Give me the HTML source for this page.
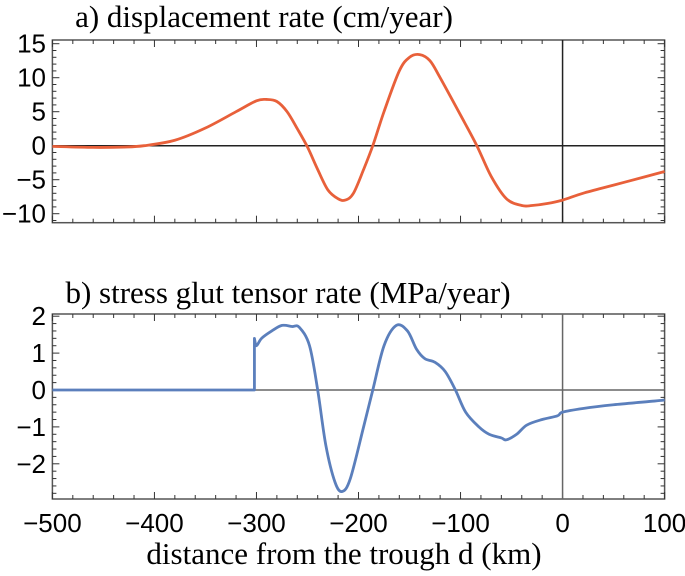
<!DOCTYPE html>
<html><head><meta charset="utf-8"><style>
body{margin:0;background:#fff}
svg{display:block}
.t{font-family:"Liberation Serif",serif;font-size:31px;fill:#000}
.k{font-family:"Liberation Sans",sans-serif;font-size:26px;fill:#000}
</style></head><body>
<svg id="c" width="685" height="576"></svg>
<script>
const xA=[-500,-460,-430,-410,-380,-350,-320,-300,-290,-280,-270,-260,-250,-240,-230,-220,-213,-205,-195,-186,-175,-160,-150,-140,-130,-120,-100,-84,-70,-55,-40,-30,-15,0,20,50,80,100];
const yA=[-0.1,-0.25,-0.2,0,0.8,2.6,5,6.6,6.8,6.5,5,2.5,-0.2,-3.5,-6.5,-7.8,-8,-7,-3.5,0,5,11,13,13.4,12.5,10,4.5,0,-4.5,-7.8,-8.8,-8.8,-8.5,-8,-7,-5.8,-4.6,-3.8];
const xB=[-500,-400,-302,-302,-300,-295,-285,-275,-265,-258,-248,-240,-232,-223,-216,-208,-195,-186,-175,-163,-152,-143,-135,-125,-115,-105,-95,-82,-72,-60,-55,-45,-35,-20,-5,0,20,50,90,100];
const yB=[0,0,0,1.4,1.2,1.4,1.6,1.75,1.72,1.7,1.2,0,-1.5,-2.5,-2.75,-2.4,-1,0,1.2,1.75,1.6,1.1,0.85,0.75,0.5,0,-0.6,-1.0,-1.2,-1.3,-1.35,-1.2,-0.95,-0.8,-0.7,-0.6,-0.5,-0.4,-0.3,-0.27];
const xTicks=[-500,-400,-300,-200,-100,0,100];
const yTicksA=[15,10,5,0,-5,-10];
const yTicksB=[2,1,0,-1,-2];
const NS="http://www.w3.org/2000/svg";
const svg=document.getElementById('c');
const L=52.4,R=664.6;
const sx=v=>L+(v+500)*(R-L)/600;
function el(t,a){const e=document.createElementNS(NS,t);for(const k in a)e.setAttribute(k,a[k]);svg.appendChild(e);return e;}
function txt(s,x,y,cls,anchor){const e=el('text',{x:x,y:y,class:cls,'text-anchor':anchor});e.textContent=s;return e;}
function smooth(P){
  let d='M'+P[0][0]+','+P[0][1];
  for(let i=0;i<P.length-1;i++){
    let p0=P[Math.max(i-1,0)],p1=P[i],p2=P[i+1],p3=P[Math.min(i+2,P.length-1)];
    if(Math.abs(p2[0]-p1[0])<0.5){d+=' L'+p2[0]+','+p2[1];continue;}
    if(Math.abs(p1[0]-p0[0])<0.5)p0=p1;
    if(Math.abs(p3[0]-p2[0])<0.5)p3=p2;
    const c1=[p1[0]+(p2[0]-p0[0])/6,p1[1]+(p2[1]-p0[1])/6];
    const c2=[p2[0]-(p3[0]-p1[0])/6,p2[1]-(p3[1]-p1[1])/6];
    d+=' C'+c1[0]+','+c1[1]+' '+c2[0]+','+c2[1]+' '+p2[0]+','+p2[1];
  }
  return d;
}
function panel(name,top,bot,y0,unit,yt,ymin,ymax,minorY,xs,ys,color,zc,labels){
  const sy=v=>y0-v*unit;
  const f=el('rect',{x:L,y:top,width:R-L,height:bot-top,fill:'none',stroke:'#555','stroke-width':1.5});
  
  for(let v=-500;v<=100;v+=20){const maj=v%100===0,len=maj?7:4;
    el('line',{x1:sx(v),x2:sx(v),y1:bot,y2:bot-len,stroke:'#333','stroke-width':1});
    el('line',{x1:sx(v),x2:sx(v),y1:top,y2:top+len,stroke:'#333','stroke-width':1});}
  for(let v=Math.ceil(ymin/minorY)*minorY;v<=ymax+1e-9;v+=minorY){
    const maj=yt.some(t=>Math.abs(t-v)<1e-6),len=maj?7:4;
    el('line',{x1:L,x2:L+len,y1:sy(v),y2:sy(v),stroke:'#333','stroke-width':1});
    el('line',{x1:R,x2:R-len,y1:sy(v),y2:sy(v),stroke:'#333','stroke-width':1});}
  yt.forEach(v=>{const t=txt(v<0?'\u2212'+(-v):String(v),46,sy(v)+9,'k','end');
    });
  const z1=el('line',{x1:L,x2:R,y1:sy(0),y2:sy(0),stroke:zc,'stroke-width':1.5});
  
  const z2=el('line',{x1:sx(0),x2:sx(0),y1:top,y2:bot,stroke:zc,'stroke-width':1.5});
  
  const p=el('path',{d:smooth(xs.map((x,i)=>[sx(x),sy(ys[i])])),fill:'none',stroke:color,'stroke-width':2.8,'stroke-linejoin':'round'});
  
  if(labels) xTicks.forEach(v=>{const t=txt(v<0?'\u2212'+(-v):String(v),sx(v),bot+33,'k','middle');
    });
}
panel('panel-a',40,222.7,145.7,6.8,yTicksA,-11,15.8,1,xA,yA,'#e8603a','#222',false);
panel('panel-b',314,499,390,36.9,yTicksB,-2.9,2,0.2,xB,yB,'#5b7fbc','#666',true);
let t=txt('a) displacement rate (cm/year)',264,27,'t','middle');

t=txt('b) stress glut tensor rate (MPa/year)',288,303,'t','middle');

t=txt('distance from the trough d (km)',344,564,'t','middle');

</script>
</body></html>
